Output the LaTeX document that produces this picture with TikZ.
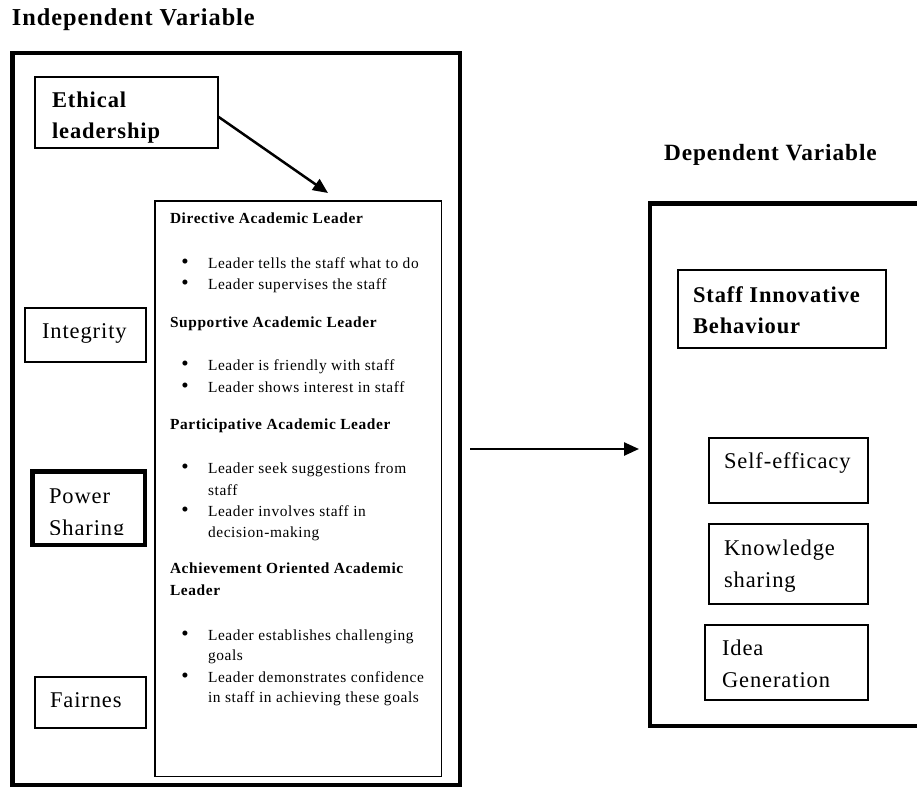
\documentclass[tikz,border=0pt]{standalone}
\usepackage{fontspec}
\setmainfont{Liberation Serif}[LetterSpace=4]
\usetikzlibrary{arrows.meta}
\newcommand{\bigfs}{\fontsize{22.5}{27}\selectfont}
\newcommand{\smfs}{\fontsize{15.4}{21}\selectfont}
\newcommand{\bulfs}{\fontsize{21}{21}\selectfont}
\begin{document}
\begin{tikzpicture}[x=1pt,y=-1pt,
  txt/.style={anchor=base west, inner sep=0pt, outer sep=0pt},
  big/.style={txt, font=\bigfs},
  bigb/.style={txt, font=\bigfs\bfseries},
  sm/.style={txt, font=\smfs},
  smb/.style={txt, font=\smfs\bfseries},
  bul/.style={anchor=base, inner sep=0pt, outer sep=0pt, font=\bulfs},
  box/.style={draw, line width=2pt, inner sep=0pt, outer sep=0pt},
  thickbox/.style={draw, line width=4.5pt, inner sep=0pt, outer sep=0pt},
  thinbox/.style={draw, line width=1.5pt, inner sep=0pt, outer sep=0pt},
  arr/.style={line width=2.5pt, -{Triangle[length=15pt,width=13pt]}}
]
\useasboundingbox (0,0) rectangle (917,789);
\clip (0,0) rectangle (917,789);

% titles
\node[txt, font=\fontsize{24.3}{28}\selectfont\bfseries] (indep) at (12,26) {Independent Variable};
\node[txt, font=\fontsize{23.3}{28}\selectfont\bfseries] (dep) at (664,160) {Dependent Variable};

% left big box
\node[thickbox, minimum width=447.5pt, minimum height=731.5pt] (left) at (236,419) {};
% ethical leadership
\node[box, minimum width=183pt, minimum height=71pt] (eth) at (126.5,112.5) {};
\node[bigb] (etht1) at (52,107) {Ethical};
\node[bigb] (etht2) at (52,138) {leadership};

% inner box
\node[thinbox, minimum width=286.5pt, minimum height=575.5pt] (inner) at (298,488.5) {};
\coordinate (ethtip) at (328,193);
\draw[arr] ([yshift=-4pt]eth.east) -- (ethtip);

% left small boxes
\node[box, minimum width=121pt, minimum height=54pt] (integ) at (85.5,335) {};
\node[big] (integt) at (42,338) {Integrity};
\node[thickbox, minimum width=112.5pt, minimum height=73.5pt] (power) at (88.5,508) {};
\begin{scope}
  \clip (34,474) rectangle (143,534);
  \node[big] (powert1) at (49,503) {Power};
  \node[big] (powert2) at (49,535) {Sharing};
\end{scope}
\node[box, minimum width=111pt, minimum height=51pt] (fair) at (90.5,702.5) {};
\node[big] (fairt) at (50,707) {Fairnes};

% inner text
\node[smb] (h1) at (170,223) {Directive Academic Leader};
\node[bul] (b1) at (185,268) {•};
\node[sm] (t1) at (208,268) {Leader tells the staff what to do};
\node[bul] (b2) at (185,289) {•};
\node[sm] (t2) at (208,289) {Leader supervises the staff};
\node[smb] (h2) at (170,327) {Supportive Academic Leader};
\node[bul] (b3) at (185,370) {•};
\node[sm] (t3) at (208,370) {Leader is friendly with staff};
\node[bul] (b4) at (185,392) {•};
\node[sm] (t4) at (208,392) {Leader shows interest in staff};
\node[smb] (h3) at (170,429) {Participative Academic Leader};
\node[bul] (b5) at (185,473) {•};
\node[sm] (t5) at (208,473) {Leader seek suggestions from};
\node[sm] (t5b) at (208,495) {staff};
\node[bul] (b6) at (185,516) {•};
\node[sm] (t6) at (208,516) {Leader involves staff in};
\node[sm] (t6b) at (208,537) {decision-making};
\node[smb] (h4) at (170,573) {Achievement Oriented Academic};
\node[smb] (h4b) at (170,595) {Leader};
\node[bul] (b7) at (185,640) {•};
\node[sm] (t7) at (208,640) {Leader establishes challenging};
\node[sm] (t7b) at (208,660) {goals};
\node[bul] (b8) at (185,682) {•};
\node[sm] (t8) at (208,682) {Leader demonstrates confidence};
\node[sm] (t8b) at (208,702) {in staff in achieving these goals};

% middle arrow
\coordinate (ma) at (470,449);
\coordinate (mb) at (639,449);
\draw[arr] (ma) -- (mb);

% right big box
\node[thickbox, minimum width=279.75pt, minimum height=522.5pt] (right) at (790.1,464.5) {};
\node[box, minimum width=208pt, minimum height=78pt] (staff) at (782,309) {};
\node[bigb] (stafft1) at (693,302) {Staff Innovative};
\node[bigb] (stafft2) at (693,333) {Behaviour};
\node[box, minimum width=159pt, minimum height=65pt] (self) at (788.5,470.5) {};
\node[big] (selft) at (724,468) {Self-efficacy};
\node[box, minimum width=159pt, minimum height=80pt] (know) at (788.5,564) {};
\node[big] (knowt1) at (724,555) {Knowledge};
\node[big] (knowt2) at (724,587) {sharing};
\node[box, minimum width=163pt, minimum height=75pt] (idea) at (786.5,662.5) {};
\node[big] (ideat1) at (722,655) {Idea};
\node[big] (ideat2) at (722,687) {Generation};
\end{tikzpicture}
\end{document}
